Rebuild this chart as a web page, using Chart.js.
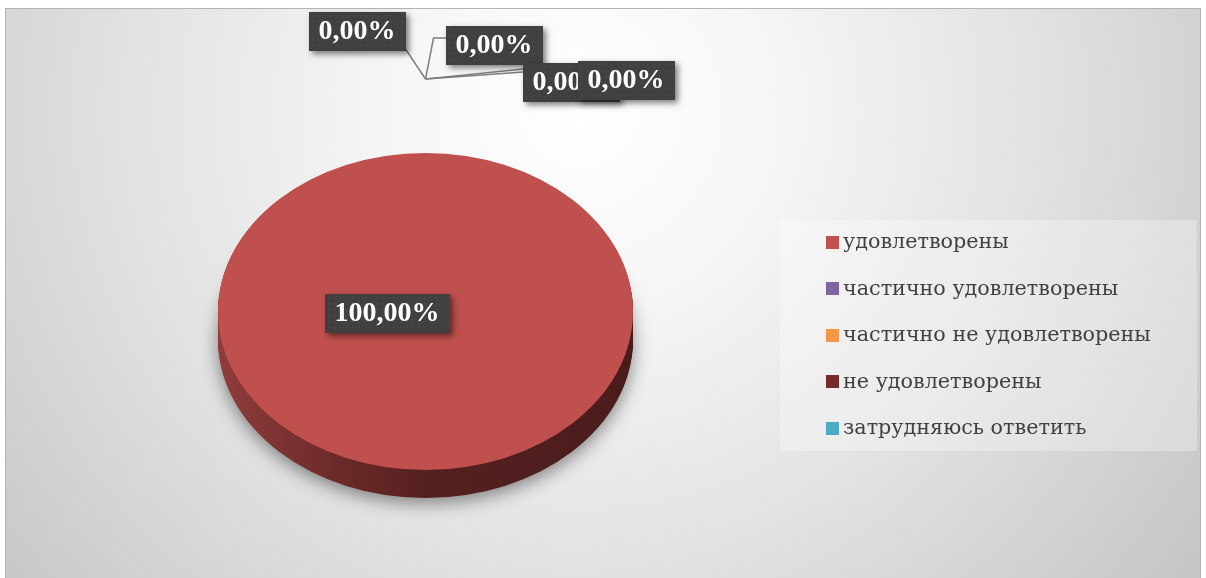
<!DOCTYPE html>
<html><head><meta charset="utf-8">
<script src="https://cdn.jsdelivr.net/npm/chart.js@4.4.1/dist/chart.umd.min.js"></script>
<style>html,body{margin:0;padding:0;background:#fff;}#wrap{width:1206px;height:578px;position:relative;overflow:hidden}</style>
</head><body><div id="wrap"><canvas id="c" width="1206" height="578"></canvas></div>
<script>
// ---- data ----
const categories = ['удовлетворены','частично удовлетворены','частично не удовлетворены','не удовлетворены','затрудняюсь ответить'];
const values = [100, 0, 0, 0, 0];
const colors = ['#C0504D','#8064A2','#F79646','#772C2A','#4BACC6'];

// ---- layout / style ----
const TILT = 0.764;      // vertical squash of the pie
const DEPTH = 28;        // thickness of the pie side
const LABEL_OFFSETS = [[-38.5, 1.5], [-68.5, -280.5], [68.5, -266.5], [145.5, -229.5], [200.5, -231.5]];
const LEADER_HUB = [0, -232.5];
const LEADERS = [
  [[-20, -262.5]],
  [[8, -273.5], [22, -273.5]],
  [[98, -242.5]],
  [[98, -239.5]]
];
const LEGEND = {x: 826, top: 242, step: 46.5, box: 13, textX: 843, bg: [780, 220, 417, 231]};

function fmt(v, total) { return (total ? v / total * 100 : 0).toFixed(2).replace('.', ',') + '%'; }

const bgPlugin = {
  id: 'bg',
  beforeDraw(chart) {
    const ctx = chart.ctx;
    ctx.save();
    ctx.fillStyle = '#fff';
    ctx.fillRect(0, 0, chart.width, chart.height);
    const g = ctx.createRadialGradient(580, 110, 0, 580, 110, 760);
    g.addColorStop(0, '#ffffff');
    g.addColorStop(0.25, '#f6f6f6');
    g.addColorStop(0.6, '#e2e2e2');
    g.addColorStop(1, '#c6c6c6');
    ctx.fillStyle = g;
    ctx.fillRect(5, 8, 1196, 570);
    ctx.strokeStyle = '#b4b4b4';
    ctx.lineWidth = 1;
    ctx.strokeRect(5.5, 8.5, 1195, 575);
    ctx.restore();
  }
};

const pie3d = {
  id: 'pie3d',
  beforeDatasetsDraw(chart) {
    const ctx = chart.ctx;
    const meta = chart.getDatasetMeta(0);
    const a0 = meta.data[0];
    const cx = a0.x, cy = a0.y;
    ctx.save();
    meta.data.forEach((el, i) => {
      const p = el.getProps(['x','y','startAngle','endAngle','outerRadius','circumference']);
      if (!p.circumference) return;
      const r = p.outerRadius;
      const g = ctx.createLinearGradient(p.x - r, 0, p.x + r, 0);
      g.addColorStop(0, '#8f3d3b');
      g.addColorStop(0.28, '#6c2b29');
      g.addColorStop(0.5, '#55201f');
      g.addColorStop(1, '#491c1c');
      for (let d = DEPTH; d >= 1; d--) {
        ctx.save();
        if (d === DEPTH) {
          ctx.shadowColor = 'rgba(0,0,0,0.45)';
          ctx.shadowBlur = 18;
          ctx.shadowOffsetY = 5;
        }
        ctx.beginPath();
        const full = p.circumference >= Math.PI * 2 - 1e-6;
        if (!full) ctx.moveTo(p.x, p.y + d);
        ctx.ellipse(p.x, p.y + d, r, r * TILT, 0, p.startAngle, p.endAngle);
        ctx.closePath();
        ctx.fillStyle = g;
        ctx.fill();
        ctx.restore();
      }
    });
    ctx.restore();
    ctx.save();
    ctx.translate(cx, cy);
    ctx.scale(1, TILT);
    ctx.translate(-cx, -cy);
  },
  afterDatasetsDraw(chart) {
    const ctx = chart.ctx;
    ctx.restore();
    const meta = chart.getDatasetMeta(0);
    const cx = meta.data[0].x, cy = meta.data[0].y;
    const ds = chart.data.datasets[0].data;
    const total = ds.reduce((a, b) => a + b, 0);
    // leader lines
    ctx.save();
    ctx.strokeStyle = '#7f7f7f';
    ctx.lineWidth = 1.5;
    LEADERS.forEach(pts => {
      ctx.beginPath();
      ctx.moveTo(cx + LEADER_HUB[0], cy + LEADER_HUB[1]);
      pts.forEach(q => ctx.lineTo(cx + q[0], cy + q[1]));
      ctx.stroke();
    });
    ctx.restore();
    // labels
    ctx.save();
    ctx.font = 'bold 28px "Liberation Serif"';
    ctx.textAlign = 'center';
    ctx.textBaseline = 'middle';
    ds.forEach((v, i) => {
      const t = fmt(v, total);
      const w = ctx.measureText(t).width + 20, h = 39;
      const lx = cx + LABEL_OFFSETS[i][0], ly = cy + LABEL_OFFSETS[i][1];
      ctx.save();
      ctx.shadowColor = 'rgba(0,0,0,0.5)';
      ctx.shadowBlur = 6;
      ctx.shadowOffsetX = 3;
      ctx.shadowOffsetY = 3;
      ctx.fillStyle = '#404040';
      ctx.fillRect(Math.round(lx - w / 2), Math.round(ly - h / 2), Math.round(w), h);
      ctx.restore();
      ctx.save();
      ctx.fillStyle = '#4a4a4a';
      for (let yy = Math.round(ly - h / 2) + 3; yy < ly + h / 2 - 1; yy += 6)
        for (let xx = Math.round(lx - w / 2) + 3; xx < lx + w / 2 - 1; xx += 6)
          ctx.fillRect(xx, yy, 1.5, 1.5);
      ctx.restore();
      ctx.fillStyle = '#ffffff';
      ctx.fillText(t, lx, ly + 1);
    });
    ctx.restore();
  }
};

const legendPlugin = {
  id: 'customLegend',
  afterDraw(chart) {
    const ctx = chart.ctx;
    const ds = chart.data.datasets[0];
    ctx.save();
    ctx.fillStyle = 'rgba(255,255,255,0.3)';
    ctx.fillRect(LEGEND.bg[0], LEGEND.bg[1], LEGEND.bg[2], LEGEND.bg[3]);
    ctx.font = '20px "DejaVu Serif"';
    const longest = Math.max(...chart.data.labels.map(l => ctx.measureText(l).width));
    const size = 20 * 308 / longest;
    ctx.font = size.toFixed(2) + 'px "DejaVu Serif"';
    ctx.textBaseline = 'middle';
    chart.data.labels.forEach((lab, i) => {
      const y = LEGEND.top + i * LEGEND.step;
      ctx.fillStyle = ds.backgroundColor[i];
      ctx.fillRect(LEGEND.x, Math.round(y - LEGEND.box / 2), LEGEND.box, LEGEND.box);
      ctx.fillStyle = '#404040';
      ctx.fillText(lab, LEGEND.textX, y + 1);
    });
    ctx.restore();
  }
};

new Chart(document.getElementById('c'), {
  type: 'pie',
  data: {
    labels: categories,
    datasets: [{ data: values, backgroundColor: colors, borderWidth: 0 }]
  },
  options: {
    responsive: false,
    animation: false,
    layout: { padding: { left: 218, right: 573, top: 104, bottom: 59 } },
    plugins: { legend: { display: false }, tooltip: { enabled: false } }
  },
  plugins: [bgPlugin, pie3d, legendPlugin]
});
</script>
</body></html>
